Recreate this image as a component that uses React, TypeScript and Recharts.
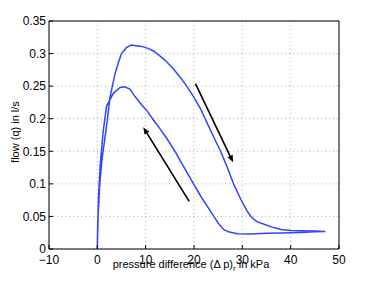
import React from "react";
import { LineChart, Line, XAxis, YAxis, CartesianGrid, ReferenceLine } from "recharts";

// pressure difference (kPa) along the loop: loading (up to 47 kPa) then unloading
const pressure = [
  0, 0.15, 0.5, 1.0, 1.6, 2.1, 2.6, 3.1, 3.7, 4.4, 5.0, 6.0, 7.0, 8.0, 9.2, 10.5, 11.6, 13.0, 14.4, 15.8, 17.1, 18.5, 19.9,
  21.3, 22.8, 24.2, 25.5, 26.9, 28.3, 29.7, 31.0, 32.0, 33.0, 34.5, 36.0, 38.0, 40, 42, 45, 47.2,
  45, 42, 38, 35, 31.7, 29, 27.3, 26.1, 25, 24.1, 22.8, 21.4, 20, 18.6, 17.2, 15.9, 14.35, 13.0, 11.6, 10.3, 9.2, 7.8,
  6.8, 5.7, 4.7, 3.3, 1.9, 1.2, 0.6, 0.25, 0.05, 0,
];
// flow (l/s) at each pressure point above
const flow = [
  0, 0.05, 0.1, 0.14, 0.172, 0.2, 0.232, 0.25, 0.27, 0.287, 0.3, 0.309, 0.313, 0.312, 0.311, 0.308, 0.304, 0.296, 0.287,
  0.276, 0.264, 0.25, 0.234, 0.216, 0.192, 0.17, 0.15, 0.125, 0.098, 0.076, 0.058, 0.048, 0.042, 0.038, 0.034, 0.03,
  0.0285, 0.028, 0.0275, 0.027,
  0.0265, 0.0255, 0.0245, 0.024, 0.023, 0.0235, 0.026, 0.03, 0.04, 0.05, 0.065, 0.081, 0.099, 0.117, 0.135, 0.152, 0.17,
  0.184, 0.198, 0.212, 0.221, 0.234, 0.245, 0.249, 0.248, 0.239, 0.219, 0.18, 0.13, 0.08, 0.03, 0,
];
const xTicks = [-10, 0, 10, 20, 30, 40, 50];
const yTicks = [0, 0.05, 0.1, 0.15, 0.2, 0.25, 0.3, 0.35];
// arrows: [x1, y1, x2, y2] in data units
const arrowDown = [20.3, 0.254, 28.1, 0.133];
const arrowUp = [19.0, 0.073, 9.5, 0.187];

const data = pressure.map((p, i) => ({ p, q: flow[i] }));
const FONT = "'Liberation Sans', Arial, sans-serif";
const fmt = (v: number) => String(v).replace("-", "\u2212");

const ArrowShape = (props: any) => {
  const { x1, y1, x2, y2 } = props;
  if ([x1, y1, x2, y2].some((v) => typeof v !== "number")) return null;
  const ang = Math.atan2(y2 - y1, x2 - x1);
  const L = 7, W = 2.8;
  const bx = x2 - L * Math.cos(ang), by = y2 - L * Math.sin(ang);
  const px = -Math.sin(ang) * W, py = Math.cos(ang) * W;
  return (
    <g>
      <line x1={x1} y1={y1} x2={bx} y2={by} stroke="#000" strokeWidth={1.6} />
      <polygon points={`${x2},${y2} ${bx + px},${by + py} ${bx - px},${by - py}`} fill="#000" />
    </g>
  );
};

const XLabel = (props: any) => {
  const vb = props.viewBox || {};
  const cx = vb.x + vb.width / 2;
  return (
    <text x={cx - 3} y={vb.y + 19} textAnchor="middle" fontFamily={FONT} fontSize={11} fill="#000">
      pressure difference (Δ p)
      <tspan fontSize={8} dy={3}>r</tspan>
      <tspan dy={-3}> in kPa</tspan>
    </text>
  );
};

const YLabel = (props: any) => {
  const vb = props.viewBox || {};
  const cy = vb.y + vb.height / 2 - 3;
  return (
    <text x={19} y={cy} transform={`rotate(-90 19 ${cy})`} textAnchor="middle" fontFamily={FONT} fontSize={11} fill="#000">
      flow (q) in l/s
    </text>
  );
};

export default function App() {
  return (
    <div style={{ position: "absolute", left: 0, top: 0, width: 374, height: 281, background: "#fff" }}>
      <LineChart width={374} height={281} data={data} margin={{ top: 0, right: 0, left: 0, bottom: 0 }}>
        <CartesianGrid stroke="#9a9a9a" strokeDasharray="1 3" strokeWidth={0.8} />
        <XAxis
          dataKey="p"
          type="number"
          domain={[-10, 50]}
          ticks={xTicks}
          height={32}
          interval={0}
          allowDataOverflow
          tickFormatter={fmt}
          tickSize={-4}
          tickMargin={10}
          stroke="#000"
          tick={{ fill: "#000", fontFamily: FONT, fontSize: 12 }}
          label={<XLabel />}
        />
        <XAxis
          xAxisId="top"
          orientation="top"
          dataKey="p"
          type="number"
          domain={[-10, 50]}
          ticks={xTicks}
          height={21}
          interval={0}
          tick={false}
          tickSize={-4}
          stroke="#000"
        />
        <YAxis
          type="number"
          domain={[0, 0.35]}
          ticks={yTicks}
          width={49}
          interval={0}
          allowDataOverflow
          tickSize={-4}
          tickMargin={7}
          stroke="#000"
          tick={{ fill: "#000", fontFamily: FONT, fontSize: 12 }}
          label={<YLabel />}
        />
        <YAxis
          yAxisId="right"
          orientation="right"
          type="number"
          domain={[0, 0.35]}
          ticks={yTicks}
          width={35}
          interval={0}
          tick={false}
          tickSize={-4}
          stroke="#000"
        />
        <Line
          type="linear"
          dataKey="q"
          stroke="#2f45ff"
          strokeWidth={1.5}
          dot={false}
          isAnimationActive={false}
        />
        <ReferenceLine
          segment={[{ x: arrowDown[0], y: arrowDown[1] }, { x: arrowDown[2], y: arrowDown[3] }]}
          shape={ArrowShape}
        />
        <ReferenceLine
          segment={[{ x: arrowUp[0], y: arrowUp[1] }, { x: arrowUp[2], y: arrowUp[3] }]}
          shape={ArrowShape}
        />
      </LineChart>
    </div>
  );
}
